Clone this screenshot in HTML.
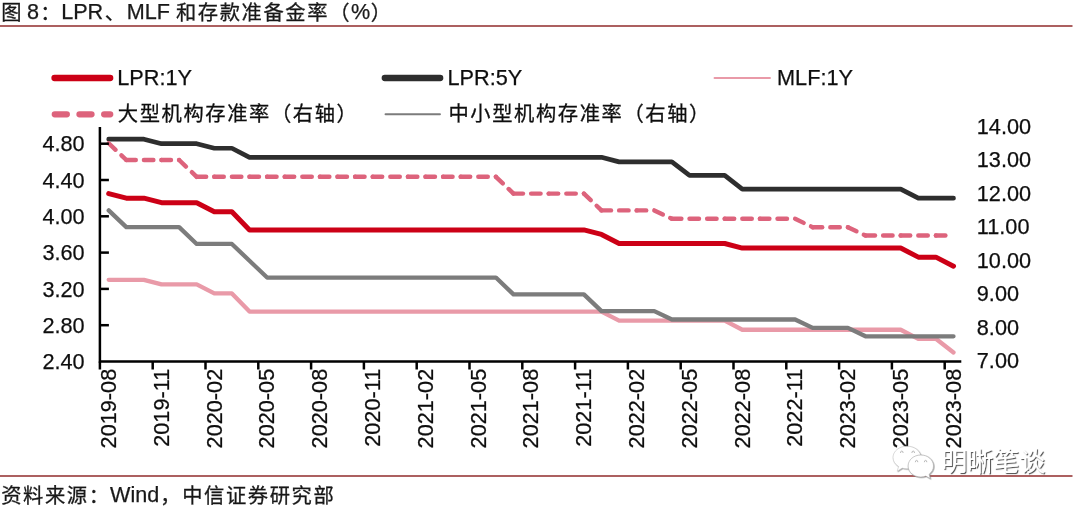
<!DOCTYPE html>
<html lang="zh-CN"><head><meta charset="utf-8"><title>图 8：LPR、MLF 和存款准备金率（%）</title>
<style>html,body{margin:0;padding:0;background:#fff;}body{width:1080px;height:510px;overflow:hidden;}svg{display:block;}text{font-family:'Liberation Sans', 'Noto Sans CJK SC', sans-serif;}</style></head><body>
<svg width="1080" height="510" viewBox="0 0 1080 510">
<defs><filter id="ws" x="-10%" y="-20%" width="120%" height="150%"><feDropShadow dx="1.1" dy="1.1" stdDeviation="0.45" flood-color="#444" flood-opacity="0.9"/></filter><filter id="wb" x="-10%" y="-20%" width="120%" height="150%"><feDropShadow dx="0.7" dy="0.7" stdDeviation="0.4" flood-color="#777" flood-opacity="0.75"/></filter><filter id="soft" x="0" y="0" width="1080" height="510" filterUnits="userSpaceOnUse"><feGaussianBlur stdDeviation="0.35"/></filter></defs>
<rect width="1080" height="510" fill="#fff"/>
<g filter="url(#soft)">
<text fill="#1a1a1a"  xml:space="preserve"><tspan x="1.2" y="20.40" font-size="20.3" letter-spacing="1.6" stroke="#1a1a1a" stroke-width="0.3" style="font-family:'Liberation Sans', 'Noto Sans CJK SC', sans-serif">图</tspan><tspan x="27.0" y="19.40" font-size="21.6" stroke="#1a1a1a" stroke-width="0.25" style="font-family:'Liberation Sans', 'Noto Sans CJK SC', sans-serif">8</tspan><tspan x="40.3" y="20.40" font-size="20.3" letter-spacing="1.6" stroke="#1a1a1a" stroke-width="0.3" style="font-family:'Liberation Sans', 'Noto Sans CJK SC', sans-serif">：</tspan><tspan x="61.2" y="19.40" font-size="21.6" stroke="#1a1a1a" stroke-width="0.25" style="font-family:'Liberation Sans', 'Noto Sans CJK SC', sans-serif">LPR</tspan><tspan x="104.8" y="20.40" font-size="20.3" letter-spacing="1.6" stroke="#1a1a1a" stroke-width="0.3" style="font-family:'Liberation Sans', 'Noto Sans CJK SC', sans-serif">、</tspan><tspan x="126.7" y="19.40" font-size="21.6" stroke="#1a1a1a" stroke-width="0.25" style="font-family:'Liberation Sans', 'Noto Sans CJK SC', sans-serif">MLF</tspan><tspan x="175.9" y="20.40" font-size="20.3" letter-spacing="1.6" stroke="#1a1a1a" stroke-width="0.3" style="font-family:'Liberation Sans', 'Noto Sans CJK SC', sans-serif">和存款准备金率</tspan><tspan x="329.3" y="20.40" font-size="20.3" letter-spacing="1.6" stroke="#1a1a1a" stroke-width="0.3" style="font-family:'Liberation Sans', 'Noto Sans CJK SC', sans-serif">（</tspan><tspan x="351.0" y="19.40" font-size="21.6" stroke="#1a1a1a" stroke-width="0.25" style="font-family:'Liberation Sans', 'Noto Sans CJK SC', sans-serif">%</tspan><tspan x="370.8" y="20.40" font-size="20.3" letter-spacing="1.6" stroke="#1a1a1a" stroke-width="0.3" style="font-family:'Liberation Sans', 'Noto Sans CJK SC', sans-serif">）</tspan></text>
<rect x="0" y="25.05" width="1072.5" height="1.9" fill="#a85a5a"/>
<rect x="0" y="475.05" width="1072.5" height="1.9" fill="#a85a5a"/>
<text fill="#1a1a1a"  xml:space="preserve"><tspan x="1.2" y="503.30" font-size="20.3" letter-spacing="1.6" stroke="#1a1a1a" stroke-width="0.3" style="font-family:'Liberation Sans', 'Noto Sans CJK SC', sans-serif">资料来源：</tspan><tspan x="110" y="502.30" font-size="21.6" stroke="#1a1a1a" stroke-width="0.25" style="font-family:'Liberation Sans', 'Noto Sans CJK SC', sans-serif">Wind</tspan><tspan x="160.3" y="503.30" font-size="20.3" letter-spacing="1.6" stroke="#1a1a1a" stroke-width="0.3" style="font-family:'Liberation Sans', 'Noto Sans CJK SC', sans-serif">，中信证券研究部</tspan></text>
<g stroke-linecap="round" fill="none">
<line x1="54.5" x2="110.2" y1="78" y2="78" stroke="#cc0416" stroke-width="6.3"/>
<line x1="384.8" x2="440.2" y1="78" y2="78" stroke="#2e2e2e" stroke-width="6.3"/>
<line x1="714.5" x2="770" y1="78" y2="78" stroke="#e99aa8" stroke-width="1.9"/>
<line x1="54.8" x2="110.2" y1="114.3" y2="114.3" stroke="#dd647c" stroke-width="6.3" stroke-dasharray="12 12.7"/>
<line x1="385.5" x2="440" y1="114.3" y2="114.3" stroke="#7c7c7c" stroke-width="1.9"/>
</g>
<g font-size="21.7" fill="#111" stroke="#111" stroke-width="0.25">
<text x="117.3" y="84.7">LPR:1Y</text>
<text x="447.5" y="84.7">LPR:5Y</text>
<text x="777" y="84.7">MLF:1Y</text>
<text fill="#111"  xml:space="preserve"><tspan x="117.8" y="121.40" font-size="20.3" letter-spacing="1.6" stroke="#111" stroke-width="0.3" style="font-family:'Liberation Sans', 'Noto Sans CJK SC', sans-serif">大型机构存准率（右轴）</tspan></text>
<text fill="#111"  xml:space="preserve"><tspan x="448.4" y="121.40" font-size="20.3" letter-spacing="1.6" stroke="#111" stroke-width="0.3" style="font-family:'Liberation Sans', 'Noto Sans CJK SC', sans-serif">中小型机构存准率（右轴）</tspan></text>
</g>
<g font-size="21.7" fill="#111" stroke="#111" stroke-width="0.25" text-anchor="end">
<text x="84.6" y="369.10">2.40</text>
<text x="84.6" y="332.80">2.80</text>
<text x="84.6" y="296.50">3.20</text>
<text x="84.6" y="260.20">3.60</text>
<text x="84.6" y="223.90">4.00</text>
<text x="84.6" y="187.60">4.40</text>
<text x="84.6" y="151.30">4.80</text>
</g>
<g font-size="21.7" fill="#111" stroke="#111" stroke-width="0.25" text-anchor="start">
<text x="976.8" y="368.20">7.00</text>
<text x="976.8" y="334.69">8.00</text>
<text x="976.8" y="301.18">9.00</text>
<text x="976.8" y="267.67">10.00</text>
<text x="976.8" y="234.16">11.00</text>
<text x="976.8" y="200.65">12.00</text>
<text x="976.8" y="167.14">13.00</text>
<text x="976.8" y="133.63">14.00</text>
</g>
<g font-size="21.7" fill="#111" stroke="#111" stroke-width="0.25" text-anchor="end">
<text transform="translate(116.00 368.8) rotate(-90)">2019-08</text>
<text transform="translate(168.80 368.8) rotate(-90)">2019-11</text>
<text transform="translate(221.60 368.8) rotate(-90)">2020-02</text>
<text transform="translate(274.40 368.8) rotate(-90)">2020-05</text>
<text transform="translate(327.20 368.8) rotate(-90)">2020-08</text>
<text transform="translate(380.00 368.8) rotate(-90)">2020-11</text>
<text transform="translate(432.80 368.8) rotate(-90)">2021-02</text>
<text transform="translate(485.60 368.8) rotate(-90)">2021-05</text>
<text transform="translate(538.40 368.8) rotate(-90)">2021-08</text>
<text transform="translate(591.20 368.8) rotate(-90)">2021-11</text>
<text transform="translate(644.00 368.8) rotate(-90)">2022-02</text>
<text transform="translate(696.80 368.8) rotate(-90)">2022-05</text>
<text transform="translate(749.60 368.8) rotate(-90)">2022-08</text>
<text transform="translate(802.40 368.8) rotate(-90)">2022-11</text>
<text transform="translate(855.20 368.8) rotate(-90)">2023-02</text>
<text transform="translate(908.00 368.8) rotate(-90)">2023-05</text>
<text transform="translate(960.80 368.8) rotate(-90)">2023-08</text>
</g>
<g fill="none" stroke-linecap="round" stroke-linejoin="round">
<path d="M108.70 193.61 L126.30 198.15 L143.90 198.15 L161.50 202.69 L179.10 202.69 L196.70 202.69 L214.30 211.76 L231.90 211.76 L249.50 229.91 L267.10 229.91 L284.70 229.91 L302.30 229.91 L319.90 229.91 L337.50 229.91 L355.10 229.91 L372.70 229.91 L390.30 229.91 L407.90 229.91 L425.50 229.91 L443.10 229.91 L460.70 229.91 L478.30 229.91 L495.90 229.91 L513.50 229.91 L531.10 229.91 L548.70 229.91 L566.30 229.91 L583.90 229.91 L601.50 234.45 L619.10 243.52 L636.70 243.52 L654.30 243.52 L671.90 243.52 L689.50 243.52 L707.10 243.52 L724.70 243.52 L742.30 248.06 L759.90 248.06 L777.50 248.06 L795.10 248.06 L812.70 248.06 L830.30 248.06 L847.90 248.06 L865.50 248.06 L883.10 248.06 L900.70 248.06 L918.30 257.14 L935.90 257.14 L953.50 266.21" stroke="#cc0416" stroke-width="5.0"/>
<path d="M108.70 139.16 L126.30 139.16 L143.90 139.16 L161.50 143.70 L179.10 143.70 L196.70 143.70 L214.30 148.24 L231.90 148.24 L249.50 157.31 L267.10 157.31 L284.70 157.31 L302.30 157.31 L319.90 157.31 L337.50 157.31 L355.10 157.31 L372.70 157.31 L390.30 157.31 L407.90 157.31 L425.50 157.31 L443.10 157.31 L460.70 157.31 L478.30 157.31 L495.90 157.31 L513.50 157.31 L531.10 157.31 L548.70 157.31 L566.30 157.31 L583.90 157.31 L601.50 157.31 L619.10 161.85 L636.70 161.85 L654.30 161.85 L671.90 161.85 L689.50 175.46 L707.10 175.46 L724.70 175.46 L742.30 189.08 L759.90 189.08 L777.50 189.08 L795.10 189.08 L812.70 189.08 L830.30 189.08 L847.90 189.08 L865.50 189.08 L883.10 189.08 L900.70 189.08 L918.30 198.15 L935.90 198.15 L953.50 198.15" stroke="#2e2e2e" stroke-width="4.7"/>
<path d="M108.70 279.82 L126.30 279.82 L143.90 279.82 L161.50 284.36 L179.10 284.36 L196.70 284.36 L214.30 293.44 L231.90 293.44 L249.50 311.59 L267.10 311.59 L284.70 311.59 L302.30 311.59 L319.90 311.59 L337.50 311.59 L355.10 311.59 L372.70 311.59 L390.30 311.59 L407.90 311.59 L425.50 311.59 L443.10 311.59 L460.70 311.59 L478.30 311.59 L495.90 311.59 L513.50 311.59 L531.10 311.59 L548.70 311.59 L566.30 311.59 L583.90 311.59 L601.50 311.59 L619.10 320.66 L636.70 320.66 L654.30 320.66 L671.90 320.66 L689.50 320.66 L707.10 320.66 L724.70 320.66 L742.30 329.74 L759.90 329.74 L777.50 329.74 L795.10 329.74 L812.70 329.74 L830.30 329.74 L847.90 329.74 L865.50 329.74 L883.10 329.74 L900.70 329.74 L918.30 338.81 L935.90 338.81 L953.50 352.43" stroke="#e99aa8" stroke-width="4.3"/>
<g stroke="#dd647c" stroke-width="4.4" stroke-dasharray="9.5 8.1">
<path d="M108.70 143.23 L126.30 160.02"/>
<path d="M126.30 160.02 L143.90 160.02"/>
<path d="M143.90 160.02 L161.50 160.02"/>
<path d="M161.50 160.02 L179.10 160.02"/>
<path d="M179.10 160.02 L196.70 176.81"/>
<path d="M196.70 176.81 L214.30 176.81"/>
<path d="M214.30 176.81 L231.90 176.81"/>
<path d="M231.90 176.81 L249.50 176.81"/>
<path d="M249.50 176.81 L267.10 176.81"/>
<path d="M267.10 176.81 L284.70 176.81"/>
<path d="M284.70 176.81 L302.30 176.81"/>
<path d="M302.30 176.81 L319.90 176.81"/>
<path d="M319.90 176.81 L337.50 176.81"/>
<path d="M337.50 176.81 L355.10 176.81"/>
<path d="M355.10 176.81 L372.70 176.81"/>
<path d="M372.70 176.81 L390.30 176.81"/>
<path d="M390.30 176.81 L407.90 176.81"/>
<path d="M407.90 176.81 L425.50 176.81"/>
<path d="M425.50 176.81 L443.10 176.81"/>
<path d="M443.10 176.81 L460.70 176.81"/>
<path d="M460.70 176.81 L478.30 176.81"/>
<path d="M478.30 176.81 L495.90 176.81"/>
<path d="M495.90 176.81 L513.50 193.60"/>
<path d="M513.50 193.60 L531.10 193.60"/>
<path d="M531.10 193.60 L548.70 193.60"/>
<path d="M548.70 193.60 L566.30 193.60"/>
<path d="M566.30 193.60 L583.90 193.60"/>
<path d="M583.90 193.60 L601.50 210.39"/>
<path d="M601.50 210.39 L619.10 210.39"/>
<path d="M619.10 210.39 L636.70 210.39"/>
<path d="M636.70 210.39 L654.30 210.39"/>
<path d="M654.30 210.39 L671.90 218.78"/>
<path d="M671.90 218.78 L689.50 218.78"/>
<path d="M689.50 218.78 L707.10 218.78"/>
<path d="M707.10 218.78 L724.70 218.78"/>
<path d="M724.70 218.78 L742.30 218.78"/>
<path d="M742.30 218.78 L759.90 218.78"/>
<path d="M759.90 218.78 L777.50 218.78"/>
<path d="M777.50 218.78 L795.10 218.78"/>
<path d="M795.10 218.78 L812.70 227.18"/>
<path d="M812.70 227.18 L830.30 227.18"/>
<path d="M830.30 227.18 L847.90 227.18"/>
<path d="M847.90 227.18 L865.50 235.57"/>
<path d="M865.50 235.57 L883.10 235.57"/>
<path d="M883.10 235.57 L900.70 235.57"/>
<path d="M900.70 235.57 L918.30 235.57"/>
<path d="M918.30 235.57 L935.90 235.57"/>
<path d="M935.90 235.57 L953.50 235.57"/>
</g>
<path d="M108.70 210.39 L126.30 227.18 L143.90 227.18 L161.50 227.18 L179.10 227.18 L196.70 243.97 L214.30 243.97 L231.90 243.97 L249.50 260.76 L267.10 277.55 L284.70 277.55 L302.30 277.55 L319.90 277.55 L337.50 277.55 L355.10 277.55 L372.70 277.55 L390.30 277.55 L407.90 277.55 L425.50 277.55 L443.10 277.55 L460.70 277.55 L478.30 277.55 L495.90 277.55 L513.50 294.34 L531.10 294.34 L548.70 294.34 L566.30 294.34 L583.90 294.34 L601.50 311.13 L619.10 311.13 L636.70 311.13 L654.30 311.13 L671.90 319.52 L689.50 319.52 L707.10 319.52 L724.70 319.52 L742.30 319.52 L759.90 319.52 L777.50 319.52 L795.10 319.52 L812.70 327.92 L830.30 327.92 L847.90 327.92 L865.50 336.31 L883.10 336.31 L900.70 336.31 L918.30 336.31 L935.90 336.31 L953.50 336.31" stroke="#7c7c7c" stroke-width="4.3"/>
</g>
<g stroke="#000" stroke-width="2.5" fill="none" stroke-linecap="butt">
<path d="M99.90 127.00 V361.50 H961.30"/>
<path d="M99.90 325.20 h9.00"/>
<path d="M99.90 288.90 h9.00"/>
<path d="M99.90 252.60 h9.00"/>
<path d="M99.90 216.30 h9.00"/>
<path d="M99.90 180.00 h9.00"/>
<path d="M99.90 143.70 h9.00"/>
<path d="M99.90 361.50 v8.00"/>
<path d="M152.70 361.50 v8.00"/>
<path d="M205.50 361.50 v8.00"/>
<path d="M258.30 361.50 v8.00"/>
<path d="M311.10 361.50 v8.00"/>
<path d="M363.90 361.50 v8.00"/>
<path d="M416.70 361.50 v8.00"/>
<path d="M469.50 361.50 v8.00"/>
<path d="M522.30 361.50 v8.00"/>
<path d="M575.10 361.50 v8.00"/>
<path d="M627.90 361.50 v8.00"/>
<path d="M680.70 361.50 v8.00"/>
<path d="M733.50 361.50 v8.00"/>
<path d="M786.30 361.50 v8.00"/>
<path d="M839.10 361.50 v8.00"/>
<path d="M891.90 361.50 v8.00"/>
<path d="M944.70 361.50 v8.00"/>
</g>
<g filter="url(#wb)" fill="#fff" stroke="#bdbdbd" stroke-width="0.5">
<path d="M907 446.2 C914.8 446.2 921 451.2 921 457.5 C921 463.8 914.8 468.8 907 468.8 C905.3 468.8 903.7 468.6 902.2 468.1 L897.2 471.2 L898.6 466.5 C895.2 464.4 893 461.2 893 457.5 C893 451.2 899.2 446.2 907 446.2 Z"/>
</g>
<g filter="url(#wb)" fill="#fff" stroke="#a8a8a8" stroke-width="0.6">
<path d="M920.8 455 C927.8 455 933.5 459.9 933.5 466 C933.5 469.3 931.8 472.3 929.1 474.3 L930.2 478.6 L925.8 476.1 C924.2 476.7 922.6 477 920.8 477 C913.8 477 908.1 472.1 908.1 466 C908.1 459.9 913.8 455 920.8 455 Z"/>
</g>
<g fill="none" stroke="#a8a8a8" stroke-width="0.8" stroke-linecap="round">
<path d="M900.50 452.60 a1.30 1.56 0 0 1 2.60 0"/>
<path d="M911.90 452.60 a1.30 1.56 0 0 1 2.60 0"/>
<path d="M915.40 461.80 a1.20 1.44 0 0 1 2.40 0"/>
<path d="M924.40 461.80 a1.20 1.44 0 0 1 2.40 0"/>
</g>
<text x="941.3" y="471.0" font-size="26" fill="#fff" filter="url(#ws)" style="font-family:'Liberation Sans', 'Noto Sans CJK SC', sans-serif">明晰笔谈</text>
</g>
</svg></body></html>
